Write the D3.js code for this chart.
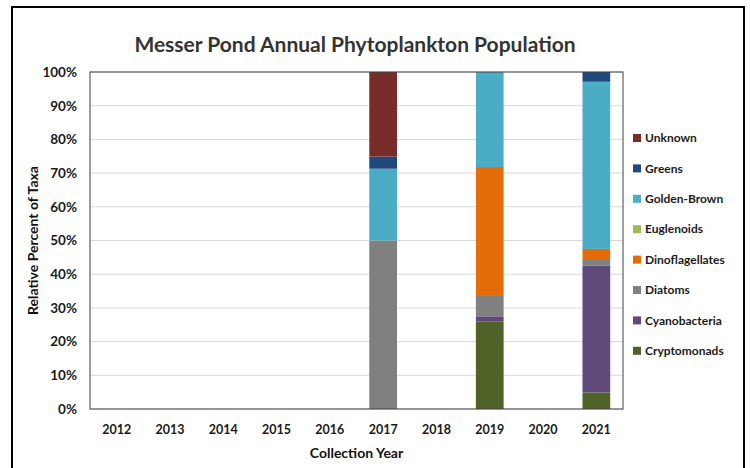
<!DOCTYPE html>
<html>
<head>
<meta charset="utf-8">
<script src="https://cdn.jsdelivr.net/npm/d3@7"></script>
<style>
  body { margin: 0; background: #fff; }
  text { font-family: Lato, "Open Sans", sans-serif; }
</style>
</head>
<body>
<div id="chart"></div>
<script>
// Years on the x axis
const years = ["2012", "2013", "2014", "2015", "2016", "2017", "2018", "2019", "2020", "2021"];

// Taxa in stacking order (bottom to top)
const taxa = ["Cryptomonads", "Cyanobacteria", "Diatoms", "Dinoflagellates", "Euglenoids", "Golden-Brown", "Greens", "Unknown"];
const taxaColors = ["#4f6228", "#604a7b", "#808080", "#e46c0a", "#9bbb59", "#4bacc6", "#1f497d", "#772c2a"];

// Percent of taxa per year, one array per taxon (same order as years)
const cryptomonads    = [0, 0, 0, 0, 0, 0,    0, 25.9, 0, 4.9];
const cyanobacteria   = [0, 0, 0, 0, 0, 0,    0, 1.6,  0, 37.7];
const diatoms         = [0, 0, 0, 0, 0, 50,   0, 6.3,  0, 1.9];
const dinoflagellates = [0, 0, 0, 0, 0, 0,    0, 38.0, 0, 3.0];
const euglenoids      = [0, 0, 0, 0, 0, 0,    0, 0,    0, 0];
const goldenBrown     = [0, 0, 0, 0, 0, 21.3, 0, 28.2, 0, 49.6];
const greens          = [0, 0, 0, 0, 0, 3.6,  0, 0,    0, 2.9];
const unknown         = [0, 0, 0, 0, 0, 25.1, 0, 0,    0, 0];

const yTicks = [0, 10, 20, 30, 40, 50, 60, 70, 80, 90, 100];

const series = [cryptomonads, cyanobacteria, diatoms, dinoflagellates, euglenoids, goldenBrown, greens, unknown];

const W = 750, H = 468;
const margin = {top: 72, right: 127, bottom: 59, left: 90};
const width = W - margin.left - margin.right;
const height = H - margin.top - margin.bottom;

const svg = d3.select("#chart").append("svg")
  .attr("width", W)
  .attr("height", H);

// outer frame
svg.append("rect")
  .attr("x", 12).attr("y", 7)
  .attr("width", 732).attr("height", 470)
  .attr("fill", "#fff")
  .attr("stroke", "#000")
  .attr("stroke-width", 2);

// build table rows for d3.stack
const table = years.map((yr, i) => {
  const row = {year: yr};
  taxa.forEach((t, j) => { row[t] = series[j][i]; });
  return row;
});
const stacked = d3.stack().keys(taxa)(table);

const x = d3.scaleBand().domain(years).range([0, width]).paddingInner(0.48).paddingOuter(0.24);
const y = d3.scaleLinear().domain([0, 100]).range([height, 0]);
const color = d3.scaleOrdinal().domain(taxa).range(taxaColors);

const g = svg.append("g").attr("transform", `translate(${margin.left},${margin.top})`);

// gridlines
g.append("g")
  .selectAll("line")
  .data(yTicks)
  .join("line")
  .attr("x1", 0).attr("x2", width)
  .attr("y1", d => y(d)).attr("y2", d => y(d))
  .attr("stroke", "#d9d9d9")
  .attr("stroke-width", 1);

// bars
g.append("g")
  .selectAll("g")
  .data(stacked)
  .join("g")
  .attr("fill", d => color(d.key))
  .selectAll("rect")
  .data(d => d)
  .join("rect")
  .attr("x", d => x(d.data.year))
  .attr("width", x.bandwidth())
  .attr("y", d => y(d[1]))
  .attr("height", d => y(d[0]) - y(d[1]));

// plot border
g.append("rect")
  .attr("x", 0).attr("y", 0)
  .attr("width", width).attr("height", height)
  .attr("fill", "none")
  .attr("stroke", "#404040")
  .attr("stroke-width", 1);

// y axis labels
const yAxis = d3.axisLeft(y).tickValues(yTicks).tickFormat(d => d + "%").tickSize(0).tickPadding(13);
g.append("g").call(yAxis)
  .call(a => a.select(".domain").remove())
  .selectAll("text")
  .attr("font-size", 13.5)
  .attr("font-weight", "bold")
  .attr("fill", "#1a1a1a")
  .style("font-family", "Lato, 'Open Sans', sans-serif");

// x axis labels
const xAxis = d3.axisBottom(x).tickSize(0).tickPadding(16);
g.append("g").attr("transform", `translate(0,${height})`).call(xAxis)
  .call(a => a.select(".domain").remove())
  .selectAll("text")
  .attr("font-size", 12.5)
  .attr("font-weight", "bold")
  .attr("fill", "#1a1a1a")
  .style("font-family", "Lato, 'Open Sans', sans-serif");

// title
svg.append("text")
  .attr("x", 355).attr("y", 52)
  .attr("text-anchor", "middle")
  .attr("font-size", 21)
  .attr("font-weight", "bold")
  .attr("fill", "#333")
  .text("Messer Pond Annual Phytoplankton Population");

// axis titles
svg.append("text")
  .attr("x", margin.left + width / 2).attr("y", 458)
  .attr("text-anchor", "middle")
  .attr("font-size", 14)
  .attr("font-weight", "bold")
  .attr("fill", "#111")
  .text("Collection Year");

svg.append("text")
  .attr("transform", `translate(38,${margin.top + height / 2}) rotate(-90)`)
  .attr("text-anchor", "middle")
  .attr("font-size", 14)
  .attr("font-weight", "bold")
  .attr("fill", "#111")
  .text("Relative Percent of Taxa");

// legend (reverse order, top = Unknown)
const legend = svg.append("g").attr("transform", "translate(633,138)");
const legendItems = legend.selectAll("g")
  .data(taxa.slice().reverse())
  .join("g")
  .attr("transform", (d, i) => `translate(0,${i * 30.4})`);
legendItems.append("rect")
  .attr("x", 0).attr("y", -4)
  .attr("width", 8).attr("height", 8)
  .attr("fill", d => color(d));
legendItems.append("text")
  .attr("x", 12).attr("y", 0)
  .attr("dy", "0.35em")
  .attr("font-size", 12)
  .attr("font-weight", "bold")
  .attr("fill", "#1a1a1a")
  .text(d => d);
</script>
</body>
</html>
